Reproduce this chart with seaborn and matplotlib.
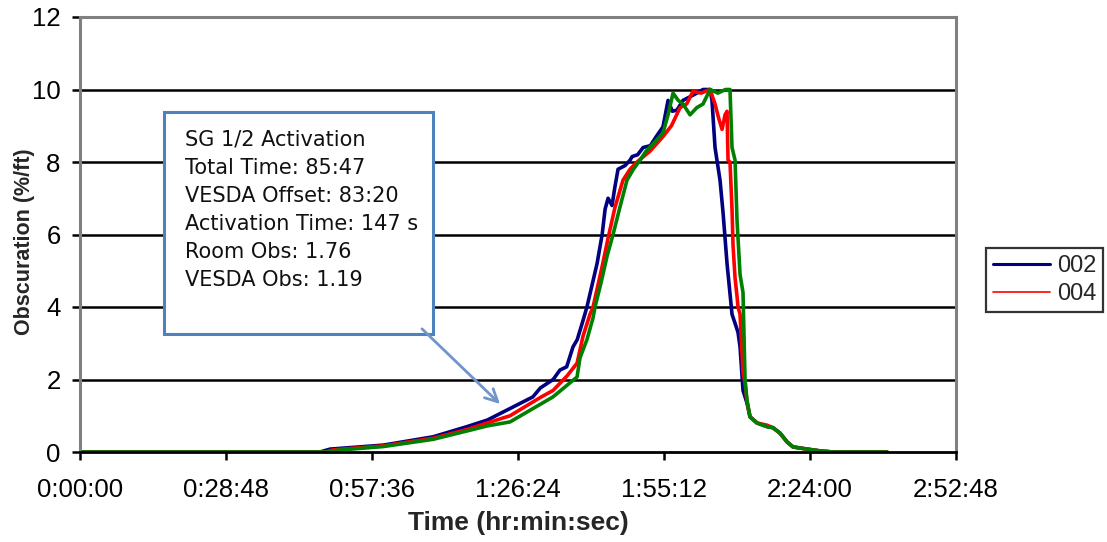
import matplotlib
matplotlib.use("Agg")
import matplotlib.pyplot as plt
import matplotlib.ticker as mticker
from matplotlib.lines import Line2D
from matplotlib.patches import Rectangle
import seaborn as sns
import pandas as pd

# ---- data (time in seconds, obscuration in %/ft) ----
t_002 = [0, 2840, 2960, 3590, 4180, 4580, 4820, 5090, 5360, 5450, 5600, 5680, 5760, 5835, 5885,
         5950, 6000, 6060, 6120, 6180, 6215, 6250, 6297, 6330, 6368, 6450, 6510, 6535, 6600, 6665,
         6750, 6820, 6900, 6960, 7010, 7065, 7137, 7220, 7300, 7374, 7457, 7480, 7516, 7575, 7611,
         7658, 7717, 7753, 7788, 7812, 7847, 7894, 7930, 8013, 8131, 8202, 8285, 8368, 8439, 8605,
         8759, 8913, 9552]
v_002 = [0, 0, 0.08, 0.19, 0.42, 0.70, 0.88, 1.20, 1.52, 1.77, 2.00, 2.26, 2.35, 2.90, 3.10,
         3.60, 4.00, 4.60, 5.20, 6.00, 6.70, 7.00, 6.80, 7.30, 7.80, 7.90, 8.05, 8.15, 8.20, 8.40,
         8.45, 8.70, 8.97, 9.70, 9.40, 9.43, 9.70, 9.80, 9.90, 10.0, 10.0, 9.70, 8.40, 7.50, 6.60,
         5.20, 3.80, 3.55, 3.30, 2.90, 1.70, 1.35, 0.97, 0.80, 0.70, 0.67, 0.52, 0.28, 0.14, 0.08,
         0.03, 0.0, 0.0]

t_004 = [0, 2900, 3000, 3590, 4180, 4580, 4820, 5090, 5445, 5600, 5765, 5883, 5954, 6036, 6072,
         6178, 6250, 6332, 6427, 6510, 6593, 6747, 6900, 7000, 7102, 7180, 7255, 7350, 7457, 7516,
         7560, 7599, 7634, 7658, 7670, 7693, 7717, 7729, 7753, 7776, 7788, 7812, 7847, 7871, 7894,
         7930, 8013, 8131, 8202, 8285, 8368, 8439, 8605, 8759, 8913, 9552]
v_004 = [0, 0, 0.06, 0.17, 0.38, 0.62, 0.80, 1.00, 1.50, 1.70, 2.10, 2.45, 3.20, 3.80, 4.00,
         5.10, 5.90, 6.75, 7.50, 7.80, 8.00, 8.30, 8.70, 9.00, 9.50, 9.60, 9.95, 9.90, 10.0, 9.60,
         9.20, 8.90, 9.30, 9.40, 8.05, 8.00, 6.70, 5.70, 4.80, 4.30, 4.00, 3.80, 2.20, 1.90, 1.40,
         0.97, 0.80, 0.74, 0.67, 0.52, 0.28, 0.14, 0.08, 0.03, 0.0, 0.0]

t_grn = [0, 2950, 3050, 3590, 4180, 4580, 4820, 5090, 5362, 5598, 5883, 5918, 6000, 6072, 6096,
         6170, 6238, 6309, 6391, 6474, 6550, 6628, 6700, 6782, 6900, 6960, 7019, 7080, 7137, 7220,
         7300, 7374, 7457, 7550, 7640, 7693, 7717, 7753, 7776, 7812, 7847, 7871, 7894, 7930, 8013,
         8131, 8202, 8285, 8368, 8439, 8605, 8759, 8913, 9552]
v_grn = [0, 0, 0.05, 0.15, 0.35, 0.58, 0.72, 0.83, 1.20, 1.52, 2.07, 2.60, 3.10, 3.70, 4.00,
         4.70, 5.40, 6.00, 6.76, 7.50, 7.80, 8.05, 8.30, 8.50, 8.80, 9.30, 9.90, 9.70, 9.60, 9.30,
         9.50, 9.60, 10.0, 9.90, 10.0, 10.0, 8.40, 8.05, 6.40, 4.90, 4.40, 2.00, 1.43, 0.97, 0.80,
         0.70, 0.67, 0.52, 0.28, 0.14, 0.08, 0.03, 0.0, 0.0]

series_names = ["002", "004", "green"]
series_colors = ["#000080", "#FF0000", "#008000"]
legend_names = ["002", "004"]

x_ticks = [0, 1728, 3456, 5184, 6912, 8640, 10368]
y_ticks = [0, 2, 4, 6, 8, 10, 12]

note_lines = ["SG 1/2 Activation", "Total Time: 85:47", "VESDA Offset: 83:20",
              "Activation Time: 147 s", "Room Obs: 1.76", "VESDA Obs: 1.19"]

# ---- build long table ----
frames = []
for name, t, v in zip(series_names, [t_002, t_004, t_grn], [v_002, v_004, v_grn]):
    frames.append(pd.DataFrame({"t": t, "v": v, "series": name}))
df = pd.concat(frames, ignore_index=True)

sns.set_style("white")
plt.rcParams["font.family"] = ["Liberation Sans", "DejaVu Sans"]

fig = plt.figure(figsize=(11.07, 5.42), dpi=100)
ax = fig.add_axes([80 / 1107, 90 / 542, 876 / 1107, 435 / 542])

sns.lineplot(data=df, x="t", y="v", hue="series", hue_order=series_names,
             palette=dict(zip(series_names, series_colors)), estimator=None, sort=False,
             linewidth=2.6, legend=False, ax=ax)

ax.set_xlim(x_ticks[0], x_ticks[-1])
ax.set_ylim(y_ticks[0], y_ticks[-1])
ax.set_xticks(x_ticks)
ax.set_yticks(y_ticks)


def hms(x, pos):
    x = int(round(x))
    return f"{x // 3600}:{(x % 3600) // 60:02d}:{x % 60:02d}"


ax.xaxis.set_major_formatter(mticker.FuncFormatter(hms))

for yv in y_ticks[1:-1]:
    ax.axhline(yv, color="black", linewidth=1.8, zorder=0.5)

for side in ["top", "right", "left"]:
    ax.spines[side].set_color("#808080")
    ax.spines[side].set_linewidth(2.2)
ax.spines["bottom"].set_color("black")
ax.spines["bottom"].set_linewidth(2.0)

ax.tick_params(axis="both", which="major", direction="out", length=6, width=1.8,
               color="black", labelsize=18.5, labelcolor="black", bottom=True, left=True)
ax.tick_params(axis="x", pad=13)
ax.tick_params(axis="y", pad=8)

ax.set_xlabel("Time (hr:min:sec)", fontsize=19, fontweight="bold", labelpad=6)
ax.set_ylabel("Obscuration (%/ft)", fontsize=15.5, fontweight="bold")
ax.yaxis.set_label_coords(-45 / 876, 0.483)

# annotation box
box_color = "#4F81BD"
ax.add_patch(Rectangle((84 / 876, 118 / 435), 269 / 876, 222 / 435, transform=ax.transAxes,
                       fill=True, facecolor="white", edgecolor=box_color, linewidth=2.2, zorder=3))
ax.text(105 / 876, 0.741, "\n".join(note_lines), transform=ax.transAxes,
        ha="left", va="top", fontsize=15, family=["DejaVu Sans"],
        linespacing=1.5, color="#111111", zorder=4)
ax.annotate("", xy=(4995, 1.27), xytext=(4024, 3.45),
            arrowprops=dict(arrowstyle="->,head_length=0.9,head_width=0.45",
                            color="#6F95CC", linewidth=2.0), zorder=4)

# legend (only two entries, at the right edge)
handles = [Line2D([], [], color=c, linewidth=w) for c, w in zip(series_colors[:2], [2.2, 1.2])]
leg = fig.legend(handles, legend_names, loc="upper left",
                 bbox_to_anchor=(986 / 1107, 294 / 542),
                 fontsize=17, frameon=True, fancybox=False, borderpad=0.3, handlelength=2.4,
                 handletextpad=0.3, labelspacing=0.25, borderaxespad=0)
leg.get_frame().set_edgecolor("black")
leg.get_frame().set_linewidth(1.6)

fig.savefig("out.png", dpi=100)
